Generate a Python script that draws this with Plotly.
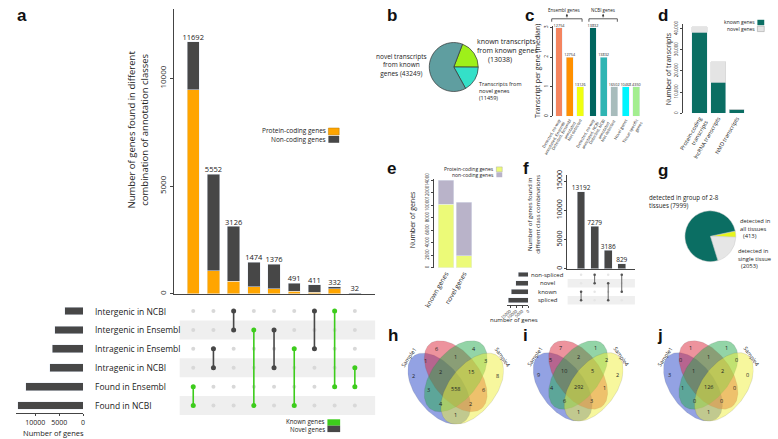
import numpy as np
import plotly.graph_objects as go

W, H = 778, 439
FONT = "Open Sans"
TXT = "#222222"

# ---------------- data ----------------
# panel a (UpSet of annotation classes)
a_totals = [11692, 5552, 3126, 1474, 1376, 491, 411, 332, 32]
a_protein = [9460, 1060, 590, 330, 230, 130, 80, 240, 10]
a_noncoding = [2232, 4492, 2536, 1144, 1146, 361, 331, 92, 22]
a_sets = ["Intergenic in NCBI", "Intergenic in Ensembl", "Intragenic in Ensembl",
          "Intragenic in NCBI", "Found in Ensembl", "Found in NCBI"]
a_set_sizes = [3869, 5976, 6454, 6960, 12056, 13657]
a_combos = [["Found in Ensembl", "Found in NCBI"],
            ["Intragenic in Ensembl", "Intragenic in NCBI"],
            ["Intergenic in NCBI", "Intergenic in Ensembl"],
            ["Intergenic in Ensembl", "Found in NCBI"],
            ["Intergenic in Ensembl", "Intragenic in NCBI"],
            ["Intragenic in Ensembl", "Found in NCBI"],
            ["Intergenic in NCBI", "Intragenic in Ensembl"],
            ["Intergenic in NCBI", "Found in Ensembl"],
            ["Intragenic in NCBI", "Found in Ensembl"]]
a_combo_type = ["Known", "Novel", "Novel", "Known", "Novel", "Known", "Novel", "Known", "Known"]
a_ticks = [0, 5000, 10000]

# panel b
b_labels = ["known transcripts from known genes", "Transcripts from novel genes",
            "novel transcripts from known genes"]
b_values = [13038, 11459, 43249]

# panel c
c_categories = ["Detected, no-way<br>annotated, Ensembl", "Detected, Ensembl<br>annotated",
                "Not detected", "Detected, no-way<br>annotated, NCBI", "Detected, NCBI<br>annotated",
                "Not detected ", "Novel genes", "Tissue specific<br>genes"]
c_values = [3, 2, 1, 3, 2, 1, 1, 1]
c_counts = ["12754", "12754", "13126", "13832", "13832", "16502", "10468", "4350"]

# panel d
d_categories = ["Protein-coding<br>transcripts", "lncRNA transcripts", "NMD transcripts"]
d_known = [38200, 14700, 1800]
d_novel = [2600, 9700, 0]
d_ticks = [0, 10000, 20000, 30000, 40000]

# panel e
e_categories = ["known genes", "novel genes"]
e_protein = [10170, 1960]
e_noncoding = [3851, 8505]
e_ticks = [0, 2000, 4000, 6000, 8000, 10000, 12000, 14000]

# panel f
f_counts = [13192, 7279, 3186, 829]
f_sets = ["non-spliced", "novel", "known", "spliced"]
f_set_sizes = [8108, 10465, 14021, 16378]
f_combos = [["known", "spliced"], ["non-spliced", "novel"], ["novel", "spliced"], ["non-spliced", "known"]]
f_ticks = [0, 5000, 10000, 15000]

# panel g
g_labels = ["detected in all tissues", "detected in single tissue", "detected in group of 2-8 tissues"]
g_values = [413, 2053, 7999]

# panels h, i, j (regions: S1, S2, S3, S4, S1S2, S2S3, S3S4, S1S2S3, S2S3S4, all,
#                 S1S3, S2S4, S1S3S4, S1S2S4, S1S4)
h_counts = [2, 6, 4, 8, 1, 1, 3, 2, 15, 558, 3, 6, 4, 2, 1]
i_counts = [9, 7, 1, 2, 5, 2, 2, 10, 5, 292, 4, 1, 6, 3, 1]
j_counts = [3, 1, 1, 0, 0, 1, 0, 1, 2, 126, 1, 0, 0, 0, 1]
venn_sets = ["Sample1", "Sample2", "Sample3", "Sample4"]


# ---------------- helpers ----------------
def X(p): return p / W
def Y(p): return 1 - p / H
def dx(a, b): return [a / W, b / W]
def dy(top, bottom): return [1 - bottom / H, 1 - top / H]
def rng(lo_px, hi_px, v1, p1, v2, p2):
    s = (v2 - v1) / (p2 - p1)
    return [v1 + (lo_px - p1) * s, v1 + (hi_px - p1) * s]

ann, shapes = [], []

def text(s, x, y, size=8, xa="center", ya="middle", angle=0, color=TXT, bold=False,
         family=FONT, xref="paper", yref="paper", align="center"):
    ann.append(dict(text=(f"<b>{s}</b>" if bold else s),
                    x=X(x) if xref == "paper" else x, y=Y(y) if yref == "paper" else y,
                    xref=xref, yref=yref, xanchor=xa, yanchor=ya, textangle=angle,
                    showarrow=False, align=align, borderpad=0,
                    font=dict(size=size, color=color, family=family)))

def rect(x0, y0, x1, y1, fill, lc=None, lw=0, xref="paper", yref="paper", layer="above"):
    shapes.append(dict(type="rect", xref=xref, yref=yref,
                       x0=X(x0) if xref == "paper" else x0, x1=X(x1) if xref == "paper" else x1,
                       y0=Y(y1) if yref == "paper" else y0, y1=Y(y0) if yref == "paper" else y1,
                       fillcolor=fill, line=dict(color=lc or fill, width=lw), layer=layer))

def line(x0, y0, x1, y1, color="#333", w=0.8):
    shapes.append(dict(type="line", xref="paper", yref="paper", x0=X(x0), y0=Y(y0),
                       x1=X(x1), y1=Y(y1), line=dict(color=color, width=w)))

fig = go.Figure()
layout = {}
def hidden(**kw):
    d = dict(visible=False, showgrid=False, zeroline=False, fixedrange=True)
    d.update(kw)
    return d

def tf(size):
    return dict(size=size, color=TXT, family=FONT)

def ticks(vals, comma=False):
    return dict(tickvals=vals, ticktext=[(f"{v:,}" if comma else str(v)) for v in vals])

ORANGE, DARK, GREEN = "#ffa500", "#474747", "#3dcc1c"

# ---------------- panel a ----------------
ax_x = rng(163, 369, 0, 183, 8, 348)
px_a = 8 / 165
cols = list(range(len(a_totals)))
fig.add_bar(x=cols, y=a_protein, marker_color=ORANGE, width=12.7 * px_a, xaxis="x", yaxis="y")
fig.add_bar(x=cols, y=a_noncoding, marker_color=DARK, width=12.7 * px_a, xaxis="x", yaxis="y")
fig.add_scatter(x=cols, y=a_totals, mode="text", text=[str(v) for v in a_totals],
                textposition="top center", textfont=tf(7.5),
                cliponaxis=False, xaxis="x", yaxis="y")
layout["xaxis"] = dict(domain=dx(163, 369), range=ax_x, showline=True, linecolor="#444",
                       linewidth=1, showticklabels=False, ticks="", showgrid=False,
                       zeroline=False, anchor="y")
layout["yaxis"] = dict(domain=dy(3, 292.5), range=rng(292.5, 3, 0, 292.5, 5000, 183),
                       showline=True, linecolor="#444", linewidth=1, ticks="outside",
                       ticklen=3, tickcolor="#444", tickangle=-90, **ticks(a_ticks),
                       tickfont=tf(8), showgrid=False, zeroline=False, anchor="x")
text("Number of genes found in different<br>combination of annotation classes", 126, 125,
     size=9.5, angle=-90)
# legend a
text("Protein-coding genes", 320, 126.5, size=6.5, xa="right")
rect(321, 124, 332, 131, ORANGE, lc="#b87800", lw=0.5)
text("Non-coding genes", 320, 135.5, size=6.5, xa="right")
rect(321, 132, 332, 139, DARK)

# matrix
row_y = {s: len(a_sets) - 1 - i for i, s in enumerate(a_sets)}
y2r = rng(416, 300, 0, 406, 5, 310)
for s in a_sets:
    if row_y[s] % 2 == 0:
        rect(ax_x[0] + 0.3, row_y[s] - 0.5, ax_x[1], row_y[s] + 0.5, "#efefef",
             xref="x2", yref="y2", layer="below")
gx, gy = [], []
for k in cols:
    for s in a_sets:
        gx.append(k); gy.append(row_y[s])
fig.add_scatter(x=gx, y=gy, mode="markers", marker=dict(size=4, color="#d8d8d8"),
                xaxis="x2", yaxis="y2")
for k, (combo, typ) in enumerate(zip(a_combos, a_combo_type)):
    c = GREEN if typ == "Known" else DARK
    fig.add_scatter(x=[k] * len(combo), y=[row_y[s] for s in combo], mode="lines+markers",
                    line=dict(color=c, width=1.6), marker=dict(size=5, color=c),
                    xaxis="x2", yaxis="y2")
layout["xaxis2"] = hidden(domain=dx(163, 369), range=ax_x, anchor="y2")
layout["yaxis2"] = hidden(domain=dy(300, 416), range=y2r, anchor="x2")
for s in a_sets:
    text(s, 82, row_y[s], size=8.5, xa="left", yref="y2")

# set sizes a
fig.add_bar(x=a_set_sizes, y=[row_y[s] for s in a_sets], orientation="h",
            marker_color=DARK, width=8 * 5 / 96, xaxis="x3", yaxis="y3")
layout["xaxis3"] = dict(domain=dx(2, 70.5), range=rng(2, 70.5, 0, 70.5, 10000, 21.8),
                        showline=True, linecolor="#444", linewidth=1, ticks="outside",
                        ticklen=2, tickcolor="#444", **ticks(a_ticks), tickfont=tf(7),
                        showgrid=False, zeroline=False, anchor="y3")
layout["yaxis3"] = hidden(domain=dy(300, 414), range=rng(414, 300, 0, 406, 5, 310), anchor="x3")
text("Number of genes", 40, 433.5, size=7.5)
text("Known genes", 319, 422.5, size=6.2, xa="right")
rect(320, 420, 333, 426.5, GREEN)
text("Novel genes", 319, 430, size=6.2, xa="right")
rect(320, 426.5, 333, 433, DARK)

# ---------------- panel b ----------------
fig.add_pie(labels=b_labels, values=b_values, sort=False, direction="clockwise", rotation=21,
            marker=dict(colors=["#9ef01a", "#34e0c8", "#5f9ea0"], line=dict(color="#333", width=0.7)),
            textinfo="none", hoverinfo="label+value", domain=dict(x=dx(424, 474), y=dy(37, 87)))
text("novel transcripts<br>from known<br>genes (43249)", 396, 60, size=6.5)
text("known transcripts<br>from known genes<br>      (13038)", 472, 45, size=7, xa="left", align="left")
text("Transcripts from<br>novel genes<br>(11459)", 474, 86, size=5.5, xa="left", align="left")

# ---------------- panel c ----------------
c_pos = [0, 1, 2, 3.2, 4.2, 5.2, 6.3, 7.3]
c_colors = ["#f4845f", "#ff9000", "#f0ff10", "#00665f", "#2fb5b3", "#a8bcbc", "#00f5ff", "#a3ee90"]
fig.add_bar(x=c_pos, y=c_values, marker_color=c_colors, width=0.65, xaxis="x4", yaxis="y4")
fig.add_scatter(x=c_pos, y=c_values, mode="text", text=c_counts, textposition="top center",
                textfont=tf(3.8), cliponaxis=False, xaxis="x4", yaxis="y4")
layout["xaxis4"] = dict(domain=dx(550.5, 642), range=rng(550.5, 642, 0, 556.5, 7.3, 635.5),
                        tickvals=c_pos, ticktext=c_categories, tickangle=-60,
                        tickfont=tf(4), showline=False,
                        ticks="", showgrid=False, zeroline=False, anchor="y4")
layout["yaxis4"] = dict(domain=dy(20, 112), range=rng(112, 20, 0, 112, 3, 22),
                        showline=True, linecolor="#444", linewidth=0.8, ticks="outside",
                        ticklen=2, tickcolor="#444", **ticks([0, 1, 2, 3]), tickangle=-90,
                        tickfont=tf(5), showgrid=False, zeroline=False, anchor="x4")
text("Transcript per gene (median)", 535, 66, size=7, angle=-90)
text("Ensembl genes", 562, 4.5, size=4.5)
text("NCBI genes", 601, 4.5, size=4.5)
for x0, x1 in [(549, 580), (587, 616)]:
    line(x0, 13, x1, 13)
    line(x0, 13, x0, 16)
    line(x1, 13, x1, 16)
    ann.append(dict(x=X((x0 + x1) / 2), y=Y(8), xref="paper", yref="paper", ax=0, ay=5,
                    showarrow=True, arrowhead=2, arrowsize=0.6, arrowwidth=0.8,
                    arrowcolor="#333", text=""))

# ---------------- panel d ----------------
TEAL = "#0b6e63"
fig.add_bar(x=[0, 1, 2], y=d_known, marker_color=TEAL, width=0.82, xaxis="x5", yaxis="y5")
fig.add_bar(x=[0, 1, 2], y=d_novel, marker=dict(color="#e4e4e4", line=dict(color="#cfcfcf", width=0.5)),
            width=0.82, xaxis="x5", yaxis="y5")
layout["xaxis5"] = dict(domain=dx(683, 752), range=rng(683, 752, 0, 700, 2, 738),
                        tickvals=[0, 1, 2], ticktext=d_categories, tickangle=-60,
                        tickfont=tf(5.5), showline=False,
                        ticks="", showgrid=False, zeroline=False, anchor="y5")
layout["yaxis5"] = dict(domain=dy(18, 109), range=rng(109, 18, 0, 109, 40000, 23),
                        showline=True, linecolor="#444", linewidth=0.8, ticks="outside",
                        ticklen=2, tickcolor="#444", **ticks(d_ticks, comma=True), tickangle=-90,
                        tickfont=tf(4.5), showgrid=False, zeroline=False, anchor="x5")
text("Number of transcripts", 669, 64, size=7, angle=-90)
text("known genes", 758, 16.5, size=5, xa="right")
rect(759, 14, 766, 19.5, TEAL)
text("novel genes", 758, 23, size=5, xa="right")
rect(759, 20.5, 766, 26, "#e4e4e4", lc="#999", lw=0.5)

# ---------------- panel e ----------------
EY, EG = "#ecfa78", "#b9b3c9"
fig.add_bar(x=[0, 1], y=e_protein, marker_color=EY, width=0.86, xaxis="x6", yaxis="y6")
fig.add_bar(x=[0, 1], y=e_noncoding, marker_color=EG, width=0.86, xaxis="x6", yaxis="y6")
layout["xaxis6"] = dict(domain=dx(429, 470), range=rng(429, 470, 0, 441, 1, 459.5),
                        tickvals=[0, 1], ticktext=e_categories, tickangle=-60,
                        tickfont=tf(6.5), showline=False,
                        ticks="", showgrid=False, zeroline=False, anchor="y6")
layout["yaxis6"] = dict(domain=dy(176, 266), range=rng(266, 176, 0, 266, 14021, 177),
                        showline=True, linecolor="#444", linewidth=0.8, ticks="outside",
                        ticklen=2, tickcolor="#444", **ticks(e_ticks),
                        tickangle=-90, tickfont=tf(4.5),
                        showgrid=False, zeroline=False, anchor="x6")
text("Number of genes", 407, 217, size=7, angle=-90)
text("Protein-coding genes", 491, 166, size=5, xa="right")
rect(492.5, 163.5, 498.5, 168.5, EY, lc="#999", lw=0.4)
text("non-coding genes", 491, 171.5, size=5, xa="right")
rect(492.5, 169, 498.5, 174, EG)

# ---------------- panel f ----------------
fx = [0, 1, 2, 3]
fxr = rng(565, 634, 0, 579, 3, 620.5)
fig.add_bar(x=fx, y=f_counts, marker_color=DARK, width=0.57, xaxis="x7", yaxis="y7")
fig.add_scatter(x=fx, y=f_counts, mode="text", text=[str(v) for v in f_counts],
                textposition="top center", textfont=tf(6.5),
                cliponaxis=False, xaxis="x7", yaxis="y7")
layout["xaxis7"] = dict(domain=dx(565, 634), range=fxr, showline=True, linecolor="#444",
                        linewidth=0.8, showticklabels=False, ticks="", showgrid=False,
                        zeroline=False, anchor="y7")
layout["yaxis7"] = dict(domain=dy(172, 267), range=rng(267, 172, 0, 267, 15000, 178),
                        showline=True, linecolor="#444", linewidth=0.8, ticks="outside",
                        ticklen=2, tickcolor="#444", **ticks(f_ticks),
                        tickangle=-90, tickfont=tf(7),
                        showgrid=False, zeroline=False, anchor="x7")
text("Number of genes found in<br>different class combinations", 531, 212, size=6, angle=-90)
frow = {s: len(f_sets) - 1 - i for i, s in enumerate(f_sets)}
fyr = rng(304, 268, 0, 299, 3, 273)
for s in f_sets:
    if frow[s] % 2 == 0:
        rect(fxr[0], frow[s] - 0.5, fxr[1], frow[s] + 0.5, "#efefef", xref="x8", yref="y8",
             layer="below")
gx, gy = [], []
for k in fx:
    for s in f_sets:
        gx.append(k); gy.append(frow[s])
fig.add_scatter(x=gx, y=gy, mode="markers", marker=dict(size=2.5, color="#e6e6e6"),
                xaxis="x8", yaxis="y8")
for k, combo in enumerate(f_combos):
    fig.add_scatter(x=[k] * len(combo), y=[frow[s] for s in combo], mode="lines+markers",
                    line=dict(color="#555", width=0.9), marker=dict(size=2.5, color="#555"),
                    xaxis="x8", yaxis="y8")
layout["xaxis8"] = hidden(domain=dx(565, 634), range=fxr, anchor="y8")
layout["yaxis8"] = hidden(domain=dy(268, 304), range=fyr, anchor="x8")
for s in f_sets:
    text(s, 545, frow[s], size=6, yref="y8")
fig.add_bar(x=f_set_sizes, y=[frow[s] for s in f_sets], orientation="h", marker_color=DARK,
            width=0.55, xaxis="x9", yaxis="y9")
layout["xaxis9"] = dict(domain=dx(503, 525), range=rng(503, 525, 0, 525, 15000, 506.5),
                        showline=True, linecolor="#444", linewidth=0.8, ticks="outside",
                        ticklen=1.5, tickcolor="#444", **ticks(f_ticks),
                        tickangle=-40, tickfont=tf(4),
                        showgrid=False, zeroline=False, anchor="y9")
layout["yaxis9"] = hidden(domain=dy(268, 304), range=fyr, anchor="x9")
text("number of genes", 511, 319, size=6)

# ---------------- panel g ----------------
fig.add_pie(labels=g_labels, values=g_values, sort=False, direction="clockwise", rotation=78,
            marker=dict(colors=["#e6f51e", "#e6e6e6", TEAL], line=dict(color="#cccccc", width=0.5)),
            textinfo="none", hoverinfo="label+value", domain=dict(x=dx(685, 737), y=dy(208, 260)))
text("detected in group of 2-8<br>tissues (7999)", 647, 199, size=6.2, xa="left", align="left")
text("detected in<br>all tissues<br>  (413)", 740, 226, size=5.8, xa="left", align="left")
text("detected in<br>single tissue<br>  (2053)", 738, 257, size=5.8, xa="left", align="left")

# ---------------- panels h, i, j ----------------
t = np.linspace(0, 2 * np.pi, 140)
centers = [(0.35, 0.47), (0.5, 0.57), (0.5, 0.57), (0.65, 0.47)]
angles = [-45, -45, 45, 45]
vcolors = ["rgba(40,70,200,0.5)", "rgba(220,40,60,0.5)", "rgba(40,170,80,0.5)", "rgba(240,240,60,0.5)"]
region_pos = [(0.12, 0.57), (0.33, 0.79), (0.67, 0.79), (0.88, 0.57), (0.23, 0.69), (0.5, 0.72),
              (0.77, 0.69), (0.36, 0.60), (0.64, 0.60), (0.5, 0.47), (0.25, 0.46), (0.75, 0.46),
              (0.37, 0.35), (0.63, 0.35), (0.5, 0.26)]
label_pos = [(0.08, 0.72, -55), (0.27, 0.875, 0), (0.73, 0.875, 0), (0.92, 0.72, 55)]
venns = [(h_counts, (402, 500, 340, 425), "10"), (i_counts, (530, 622, 340, 422), "11"),
         (j_counts, (663, 755, 340, 422), "12")]
for counts, (x0, x1, y0, y1), n in venns:
    for (cx, cy), ang, col in zip(centers, angles, vcolors):
        th = np.radians(ang)
        ex = cx + 0.35 * np.cos(t) * np.cos(th) - 0.2 * np.sin(t) * np.sin(th)
        ey = cy + 0.35 * np.cos(t) * np.sin(th) + 0.2 * np.sin(t) * np.cos(th)
        fig.add_scatter(x=ex, y=ey, mode="lines", fill="toself", fillcolor=col,
                        line=dict(width=0.4, color="rgba(90,90,90,0.35)"),
                        xaxis="x" + n, yaxis="y" + n)
    for (px, py), v in zip(region_pos, counts):
        text(str(v), px, py, size=5.5, xref="x" + n, yref="y" + n)
    for (px, py, ang), s in zip(label_pos, venn_sets):
        text(s, px, py, size=5.5, angle=ang, xref="x" + n, yref="y" + n)
    layout["xaxis" + n] = hidden(domain=dx(x0, x1), range=[0.065, 0.935], anchor="y" + n)
    layout["yaxis" + n] = hidden(domain=dy(y0, y1), range=[0.185, 0.855], anchor="x" + n)

# panel letters
for s, x, y in [("a", 8, 10), ("b", 386, 10), ("c", 526, 10), ("d", 663, 10), ("e", 385, 165),
                ("f", 523, 165), ("g", 663, 167), ("h", 387, 335), ("i", 522, 335), ("j", 660, 335)]:
    text(s, x, y, size=17, bold=True, family="Liberation Sans", color="#111")

fig.update_layout(width=W, height=H, margin=dict(l=0, r=0, t=0, b=0), barmode="stack",
                  autosize=False, plot_bgcolor="white", paper_bgcolor="white", showlegend=False,
                  annotations=ann, shapes=shapes, **layout)
fig.write_html("out.html", config={"displayModeBar": False},
               post_script="document.body.style.margin='0px';document.body.style.overflow='hidden';")
